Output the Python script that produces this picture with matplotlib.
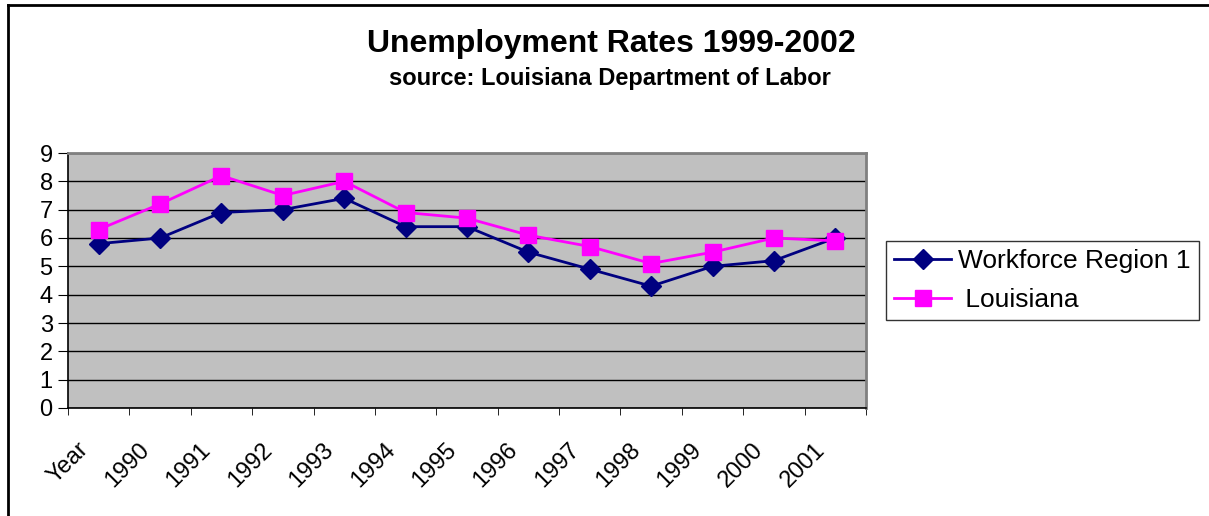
import matplotlib.pyplot as plt
import numpy as np
from matplotlib.lines import Line2D

plt.rcParams["font.family"] = ["Liberation Sans", "DejaVu Sans"]

categories = ["Year", "1990", "1991", "1992", "1993", "1994", "1995",
              "1996", "1997", "1998", "1999", "2000", "2001"]
workforce = [5.8, 6.0, 6.9, 7.0, 7.4, 6.4, 6.4, 5.5, 4.9, 4.3, 5.0, 5.2, 6.0]
louisiana = [6.3, 7.2, 8.2, 7.5, 8.0, 6.9, 6.7, 6.1, 5.7, 5.1, 5.5, 6.0, 5.9]
y_ticks = list(range(0, 10))

W, H = 1209, 516
fig = plt.figure(figsize=(W / 100, H / 100), dpi=100)

# outer chart frame (Excel style)
fig.add_artist(Line2D([8 / W, 1], [1 - 5 / H, 1 - 5 / H], color="black", lw=2, transform=fig.transFigure))
fig.add_artist(Line2D([8 / W, 8 / W], [0, 1 - 5 / H], color="black", lw=2, transform=fig.transFigure))

ax = fig.add_axes([68 / W, 1 - 408 / H, (866 - 68) / W, (408 - 153) / H])
ax.set_facecolor("#C0C0C0")

x = np.arange(len(categories))
ax.plot(x, workforce, color="#000080", lw=2, marker="D", ms=10,
        label="Workforce Region 1", zorder=3)
ax.plot(x, louisiana, color="#FF00FF", lw=2, marker="s", ms=11.5,
        label=" Louisiana", zorder=4)

ax.set_xlim(-0.5, len(categories) - 0.5)
ax.set_ylim(0, 9)
ax.set_yticks(y_ticks)
ax.yaxis.grid(True, color="black", lw=1)
ax.set_axisbelow(True)

# tick marks at category boundaries; labels sit slightly left of centre
ax.set_xticks(np.arange(len(categories) + 1) - 0.5, minor=True)
ax.set_xticks(x - 0.1)
ax.set_xticklabels(categories, rotation=45, ha="right", va="top", fontsize=17)
ax.tick_params(axis="x", which="major", length=0, pad=22)
ax.tick_params(axis="x", which="minor", length=5, direction="out", color="black")
ax.tick_params(axis="y", length=7, direction="out", labelsize=17, pad=4, color="black")

for side in ["top", "right"]:
    ax.spines[side].set_color("#808080")
    ax.spines[side].set_linewidth(2)
ax.spines["left"].set_color("black")
ax.spines["bottom"].set_color("black")
ax.spines["left"].set_linewidth(1.2)
ax.spines["bottom"].set_linewidth(1.2)

fig.text(611 / W, 1 - 44 / H, "Unemployment Rates 1999-2002", ha="center", va="center",
         fontsize=23, fontweight="bold")
fig.text(610 / W, 1 - 78 / H, "source: Louisiana Department of Labor", ha="center", va="center",
         fontsize=17, fontweight="bold")

leg = fig.legend(loc="upper left", bbox_to_anchor=(886 / W, 1 - 241 / H), borderaxespad=0,
                 fontsize=19, frameon=True, fancybox=False, edgecolor="black",
                 borderpad=0.32, handlelength=2.15, handletextpad=0.27, labelspacing=0.55)
leg.get_frame().set_linewidth(1)

fig.savefig("out.png", dpi=100)
